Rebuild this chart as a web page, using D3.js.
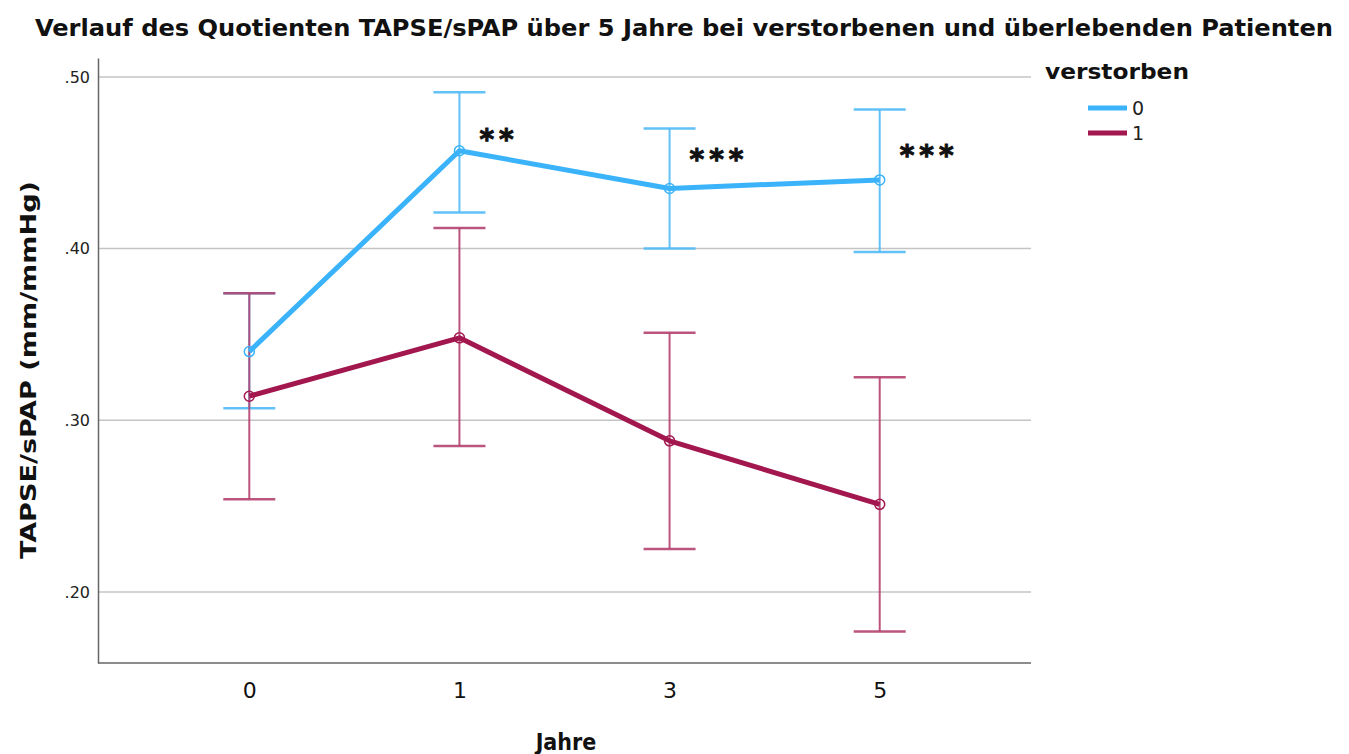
<!DOCTYPE html>
<html>
<head>
<meta charset="utf-8">
<script src="https://cdn.jsdelivr.net/npm/d3@7"></script>
<style>
  html, body { margin: 0; padding: 0; background: #fff; }
  svg { display: block; }
  text { font-family: "DejaVu Sans Condensed", "DejaVu Sans", sans-serif; }
</style>
</head>
<body>
<svg id="chart" width="1349" height="754"></svg>
<script>
// Years of follow-up
const years = ["0", "1", "3", "5"];

// Group 0 (survived): means and 95% CI bounds
const survMean  = [0.340, 0.457, 0.435, 0.440];
const survLower = [0.307, 0.421, 0.400, 0.398];
const survUpper = [0.374, 0.491, 0.470, 0.481];

// Group 1 (deceased): means and 95% CI bounds
const deadMean  = [0.314, 0.348, 0.288, 0.251];
const deadLower = [0.254, 0.285, 0.225, 0.177];
const deadUpper = [0.374, 0.412, 0.351, 0.325];

// Significance marks per year
const sigMarks = ["", "**", "***", "***"];

const yTicks = [0.20, 0.30, 0.40, 0.50];
const groupLabels = ["0", "1"];

const svg = d3.select("#chart");
const plotLeft = 98, plotRight = 1031, plotTop = 58, plotBottom = 663;

const x = d3.scalePoint().domain(years).range([plotLeft, plotRight]).padding(0.72);
const y = d3.scaleLinear().domain([0.1586, 0.511]).range([plotBottom, plotTop]);

const series = [
  { name: groupLabels[0], mean: survMean, lo: survLower, hi: survUpper, color: "#3bb3fa", bar: "#52bcf8" },
  { name: groupLabels[1], mean: deadMean, lo: deadLower, hi: deadUpper, color: "#a3174f", bar: "#b4436f" }
];

// Gridlines
svg.append("g")
  .selectAll("line")
  .data(yTicks)
  .join("line")
  .attr("x1", plotLeft).attr("x2", plotRight)
  .attr("y1", d => y(d)).attr("y2", d => y(d))
  .attr("stroke", "#c4c4c4").attr("stroke-width", 1.5);

// Y axis
const yAxis = svg.append("g")
  .attr("transform", `translate(${plotLeft},0)`)
  .call(d3.axisLeft(y).tickValues(yTicks).tickSize(0).tickPadding(8)
    .tickFormat(d => d3.format(".2f")(d).replace(/^0/, "")));
yAxis.select(".domain").attr("stroke", "#666").attr("stroke-width", 1.5);
yAxis.selectAll("text").attr("font-size", 16).attr("fill", "#222")
  .style("font-family", "'DejaVu Sans', sans-serif");

// X axis
const xAxis = svg.append("g")
  .attr("transform", `translate(0,${plotBottom})`)
  .call(d3.axisBottom(x).tickSize(0).tickPadding(19));
xAxis.select(".domain").attr("d", `M${plotLeft},0H${plotRight}`).attr("stroke", "#666").attr("stroke-width", 1.5);
xAxis.selectAll("text").attr("font-size", 22).attr("fill", "#111")
  .style("font-family", "'DejaVu Sans', sans-serif");

const capHalf = 26;

// Error bars
series.forEach(s => {
  const g = svg.append("g");
  years.forEach((yr, i) => {
    const cx = x(yr);
    g.append("line").attr("x1", cx).attr("x2", cx)
      .attr("y1", y(s.lo[i])).attr("y2", y(s.hi[i]))
      .attr("stroke", s.bar).attr("stroke-width", 2).attr("opacity", 0.9);
    [s.lo[i], s.hi[i]].forEach(v => {
      g.append("line").attr("x1", cx - capHalf).attr("x2", cx + capHalf)
        .attr("y1", y(v)).attr("y2", y(v))
        .attr("stroke", s.bar).attr("stroke-width", 2.5).attr("opacity", 0.9);
    });
  });
});

// Mean lines and open markers
series.forEach(s => {
  const line = d3.line().x((d, i) => x(years[i])).y(d => y(d));
  svg.append("path").datum(s.mean)
    .attr("d", line).attr("fill", "none")
    .attr("stroke", s.color).attr("stroke-width", 5).attr("stroke-linejoin", "round");
  svg.append("g").selectAll("circle").data(s.mean).join("circle")
    .attr("cx", (d, i) => x(years[i])).attr("cy", d => y(d)).attr("r", 5)
    .attr("fill", "none").attr("stroke", s.color).attr("stroke-width", 1.5);
});

// Significance asterisks
const sigOffsets = [0, -2, -19, -15];
svg.append("g").selectAll("text").data(sigMarks).join("text")
  .attr("x", (d, i) => x(years[i]) + 20)
  .attr("y", (d, i) => y(survMean[i]) + sigOffsets[i])
  .attr("font-size", 28).attr("font-weight", "bold")
  .attr("letter-spacing", 5).attr("fill", "#111")
  .attr("stroke", "#111").attr("stroke-width", 1)
  .style("font-family", "'DejaVu Sans', sans-serif")
  .text(d => d);

// Title
svg.append("text")
  .attr("x", 684).attr("y", 36).attr("text-anchor", "middle")
  .attr("font-size", 23).attr("font-weight", "bold").attr("fill", "#111")
  .attr("textLength", 1298).attr("lengthAdjust", "spacingAndGlyphs")
  .text("Verlauf des Quotienten TAPSE/sPAP über 5 Jahre bei verstorbenen und überlebenden Patienten");

// Axis titles
svg.append("text")
  .attr("transform", "translate(36,370) rotate(-90)")
  .attr("text-anchor", "middle")
  .attr("font-size", 22).attr("font-weight", "bold").attr("fill", "#111")
  .attr("textLength", 378).attr("lengthAdjust", "spacingAndGlyphs")
  .text("TAPSE/sPAP (mm/mmHg)");

svg.append("text")
  .attr("x", 566).attr("y", 750).attr("text-anchor", "middle")
  .attr("font-size", 23).attr("font-weight", "bold").attr("fill", "#111")
  .text("Jahre");

// Legend
const legend = svg.append("g");
legend.append("text")
  .attr("x", 1045).attr("y", 79)
  .attr("font-size", 22).attr("font-weight", "bold").attr("fill", "#111")
  .attr("textLength", 144).attr("lengthAdjust", "spacingAndGlyphs")
  .text("verstorben");
series.forEach((s, i) => {
  const ly = 108 + i * 25;
  legend.append("line").attr("x1", 1088).attr("x2", 1127)
    .attr("y1", ly).attr("y2", ly)
    .attr("stroke", s.color).attr("stroke-width", 5);
  legend.append("text").attr("x", 1132).attr("y", ly + 7)
    .attr("font-size", 19).attr("fill", "#222")
    .style("font-family", "'DejaVu Sans', sans-serif")
    .text(s.name);
});
</script>
</body>
</html>
